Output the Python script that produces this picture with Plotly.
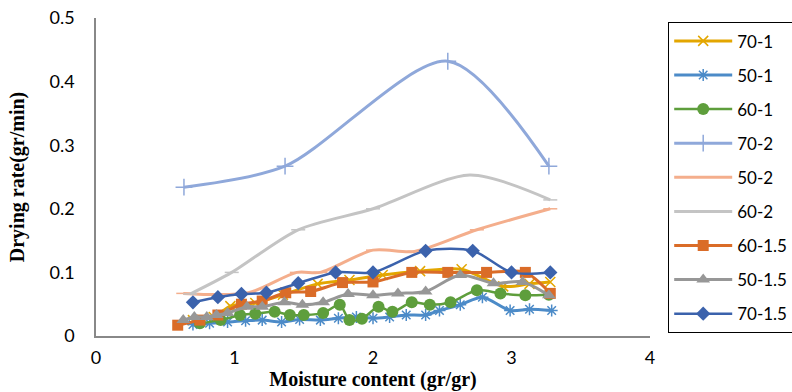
import plotly.graph_objects as go

# ---- data ----
x_70_1 = [0.70, 0.85, 0.97, 1.15, 1.35, 1.60, 1.83, 2.07, 2.34, 2.64, 2.94, 3.13, 3.28]
y_70_1 = [0.025, 0.030, 0.047, 0.052, 0.065, 0.082, 0.088, 0.096, 0.102, 0.105, 0.078, 0.082, 0.085]

x_50_1 = [0.70, 0.82, 0.95, 1.08, 1.20, 1.34, 1.47, 1.62, 1.75, 1.88, 2.00, 2.12, 2.24, 2.38, 2.48, 2.63, 2.79, 2.99, 3.13, 3.29]
y_50_1 = [0.018, 0.020, 0.022, 0.024, 0.025, 0.022, 0.026, 0.025, 0.028, 0.030, 0.028, 0.030, 0.033, 0.033, 0.040, 0.049, 0.061, 0.040, 0.042, 0.040]

x_60_1 = [0.75, 0.90, 1.04, 1.15, 1.29, 1.40, 1.50, 1.64, 1.76, 1.83, 1.92, 2.04, 2.14, 2.28, 2.41, 2.56, 2.75, 2.92, 3.10, 3.27]
y_60_1 = [0.020, 0.025, 0.033, 0.035, 0.038, 0.033, 0.033, 0.036, 0.049, 0.025, 0.027, 0.046, 0.038, 0.053, 0.049, 0.053, 0.072, 0.067, 0.064, 0.065]

x_70_2 = [0.635, 1.365, 2.54, 3.27]
y_70_2 = [0.234, 0.267, 0.432, 0.267]

x_50_2 = [0.63, 1.10, 1.45, 1.62, 2.00, 2.30, 2.75, 3.28]
y_50_2 = [0.067, 0.068, 0.100, 0.100, 0.135, 0.133, 0.167, 0.200]

x_60_2 = [0.68, 0.98, 1.46, 2.00, 2.70, 3.28]
y_60_2 = [0.066, 0.100, 0.167, 0.200, 0.253, 0.214]

x_60_15 = [0.59, 0.75, 0.88, 1.05, 1.20, 1.37, 1.55, 1.78, 2.00, 2.28, 2.54, 2.82, 3.10, 3.28]
y_60_15 = [0.017, 0.025, 0.033, 0.050, 0.055, 0.068, 0.070, 0.084, 0.085, 0.100, 0.100, 0.100, 0.100, 0.067]

x_50_15 = [0.63, 0.71, 0.80, 0.87, 0.95, 1.09, 1.20, 1.36, 1.49, 1.64, 1.82, 2.00, 2.18, 2.38, 2.63, 2.87, 3.08, 3.27]
y_50_15 = [0.025, 0.030, 0.030, 0.033, 0.036, 0.046, 0.046, 0.053, 0.049, 0.053, 0.066, 0.064, 0.067, 0.070, 0.096, 0.083, 0.085, 0.064]

x_70_15 = [0.70, 0.88, 1.05, 1.23, 1.46, 1.73, 2.00, 2.38, 2.72, 3.00, 3.28]
y_70_15 = [0.053, 0.061, 0.066, 0.068, 0.083, 0.100, 0.100, 0.134, 0.134, 0.100, 0.100]

series = [
    ("70-1", x_70_1, y_70_1, "#E3A600", "x-thin-open", 10, 3),
    ("50-1", x_50_1, y_50_1, "#4C8BC8", "asterisk-open", 10, 3),
    ("60-1", x_60_1, y_60_1, "#5E9E3C", "circle", 12, 2.5),
    ("70-2", x_70_2, y_70_2, "#8FA8DA", "cross-thin-open", 12, 3),
    ("50-2", x_50_2, y_50_2, "#F4AE8C", "line-ew-open", 10, 3),
    ("60-2", x_60_2, y_60_2, "#C4C4C4", "line-ew-open", 10, 3),
    ("60-1.5", x_60_15, y_60_15, "#DA6C28", "square", 11, 3),
    ("50-1.5", x_50_15, y_50_15, "#979797", "triangle-up", 12, 3),
    ("70-1.5", x_70_15, y_70_15, "#3B62AC", "diamond", 11, 2.5),
]

fig = go.Figure()
for name, xs, ys, col, sym, msz, lw in series:
    open_sym = sym.endswith("open")
    fig.add_trace(go.Scatter(
        x=xs, y=ys, name=name, mode="lines+markers",
        line=dict(color=col, width=lw, shape="spline", smoothing=0.8),
        marker=dict(symbol=sym, size=msz, color=col,
                    line=dict(color=col, width=1.5 if open_sym else 0)),
        legendgroup=name,
    ))

fig.update_layout(
    width=792, height=392,
    margin=dict(l=96, r=142, t=18, b=56, autoexpand=False),
    paper_bgcolor="white", plot_bgcolor="white",
    font=dict(family="Lato, Liberation Sans, sans-serif", size=17, color="#000"),
    showlegend=True,
    legend=dict(
        x=(668 - 96) / 554, y=0.987, xanchor="left", yanchor="top",
        bordercolor="#000", borderwidth=1.2,
        font=dict(size=17, family="Lato, Liberation Sans, sans-serif"),
        traceorder="grouped", tracegroupgap=9,
        itemwidth=58,
    ),
    xaxis=dict(
        range=[0, 4], tickvals=[0, 1, 2, 3, 4], ticks="", showgrid=False,
        zeroline=False, showline=True, linecolor="#888888", linewidth=2,
        ticklabelstandoff=4, ticklabeloverflow="allow",
        title=dict(text="<b>Moisture content (gr/gr)</b>", standoff=4,
                   font=dict(family="Liberation Serif, Times New Roman, serif", size=20)),
        tickfont=dict(size=18),
    ),
    yaxis=dict(
        range=[0, 0.5], tickvals=[0, 0.1, 0.2, 0.3, 0.4, 0.5],
        ticktext=["0", "0.1", "0.2", "0.3", "0.4", "0.5"], ticks="",
        ticklabelstandoff=16, ticklabeloverflow="allow",
        showgrid=False, zeroline=False, showline=True, linecolor="#888888", linewidth=1.5,
        title=dict(text="<b>Drying rate(gr/min)</b>", standoff=20,
                   font=dict(family="Liberation Serif, Times New Roman, serif", size=20)),
        tickfont=dict(size=18),
    ),
)

fig.write_html("out.html", config={"displayModeBar": False},
               post_script="document.body.style.margin='0';document.body.style.overflow='hidden';")
